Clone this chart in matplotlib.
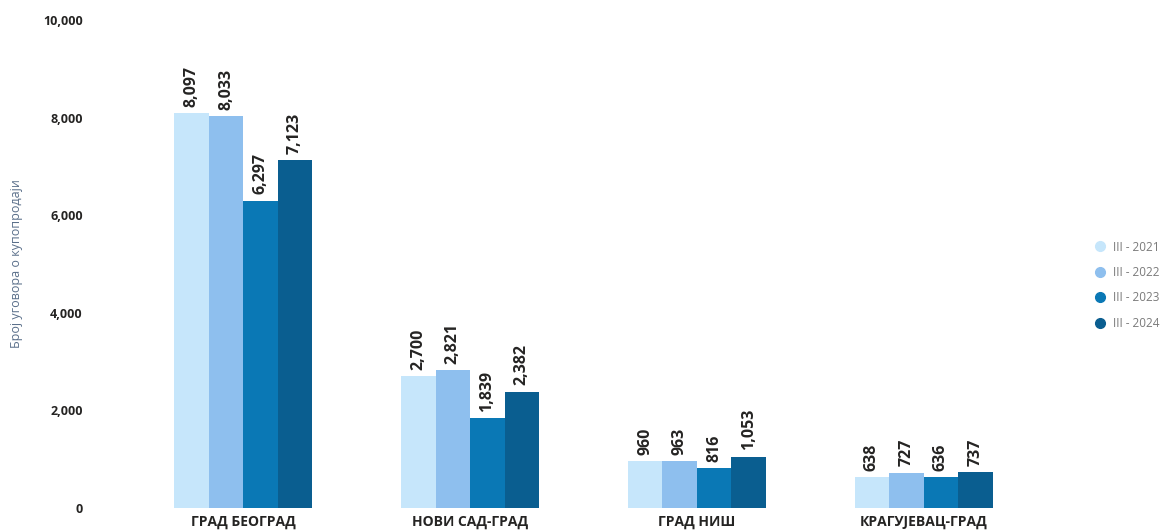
import numpy as np
import matplotlib.pyplot as plt
from matplotlib.lines import Line2D

categories = ['ГРАД БЕОГРАД', 'НОВИ САД-ГРАД', 'ГРАД НИШ', 'КРАГУЈЕВАЦ-ГРАД']
periods = ['III - 2021', 'III - 2022', 'III - 2023', 'III - 2024']
values = [
    [8097, 2700, 960, 638],
    [8033, 2821, 963, 727],
    [6297, 1839, 816, 636],
    [7123, 2382, 1053, 737],
]
colors = ['#c6e6fb', '#8ebfee', '#0a78b5', '#0a5e90']

plt.rcParams['font.family'] = ['Open Sans', 'DejaVu Sans']

fig = plt.figure(figsize=(11.69, 5.30), dpi=100)
ax = fig.add_axes([130 / 1169, 22 / 530, 907 / 1169, 488 / 530])

x = np.arange(len(categories))
w = 0.152
for i, (p, vals, c) in enumerate(zip(periods, values, colors)):
    pos = x + (i - 1.5) * w
    ax.bar(pos, vals, width=w, color=c, label=p)
    for xp, v in zip(pos, vals):
        ax.text(xp, v + 130, f'{v:,}', rotation=90, ha='center', va='bottom',
                fontsize=11.5, fontweight='bold', color='#252423')

ax.set_xlim(-0.5, 3.5)
ax.set_ylim(0, 10000)
ax.set_yticks(range(0, 10001, 2000))
ax.set_yticklabels([f'{t:,}' for t in range(0, 10001, 2000)],
                   fontsize=9, fontweight='bold', color='#252423')
ax.set_xticks(x)
ax.set_xticklabels(categories, fontsize=10, fontweight='bold', color='#252423')
ax.tick_params(axis='y', length=0, pad=55)
ax.tick_params(axis='y', pad=34)
ax.tick_params(axis='x', length=0, pad=5)
for s in ax.spines.values():
    s.set_visible(False)

ax.set_ylabel('Број уговора о купопродаји', fontsize=9, color='#5a6f8a')
ax.yaxis.set_label_coords(-0.118, 0.5)

handles = [Line2D([0], [0], marker='o', linestyle='', markersize=7,
                  markerfacecolor=c, markeredgecolor=c) for c in colors]
fig.legend(handles, periods, loc='center left', bbox_to_anchor=(1078 / 1169, 0.462),
           frameon=False, fontsize=8.5, labelcolor='#7a7a7a', handletextpad=0.1,
           labelspacing=1.05)

fig.savefig('out.png', dpi=100)
